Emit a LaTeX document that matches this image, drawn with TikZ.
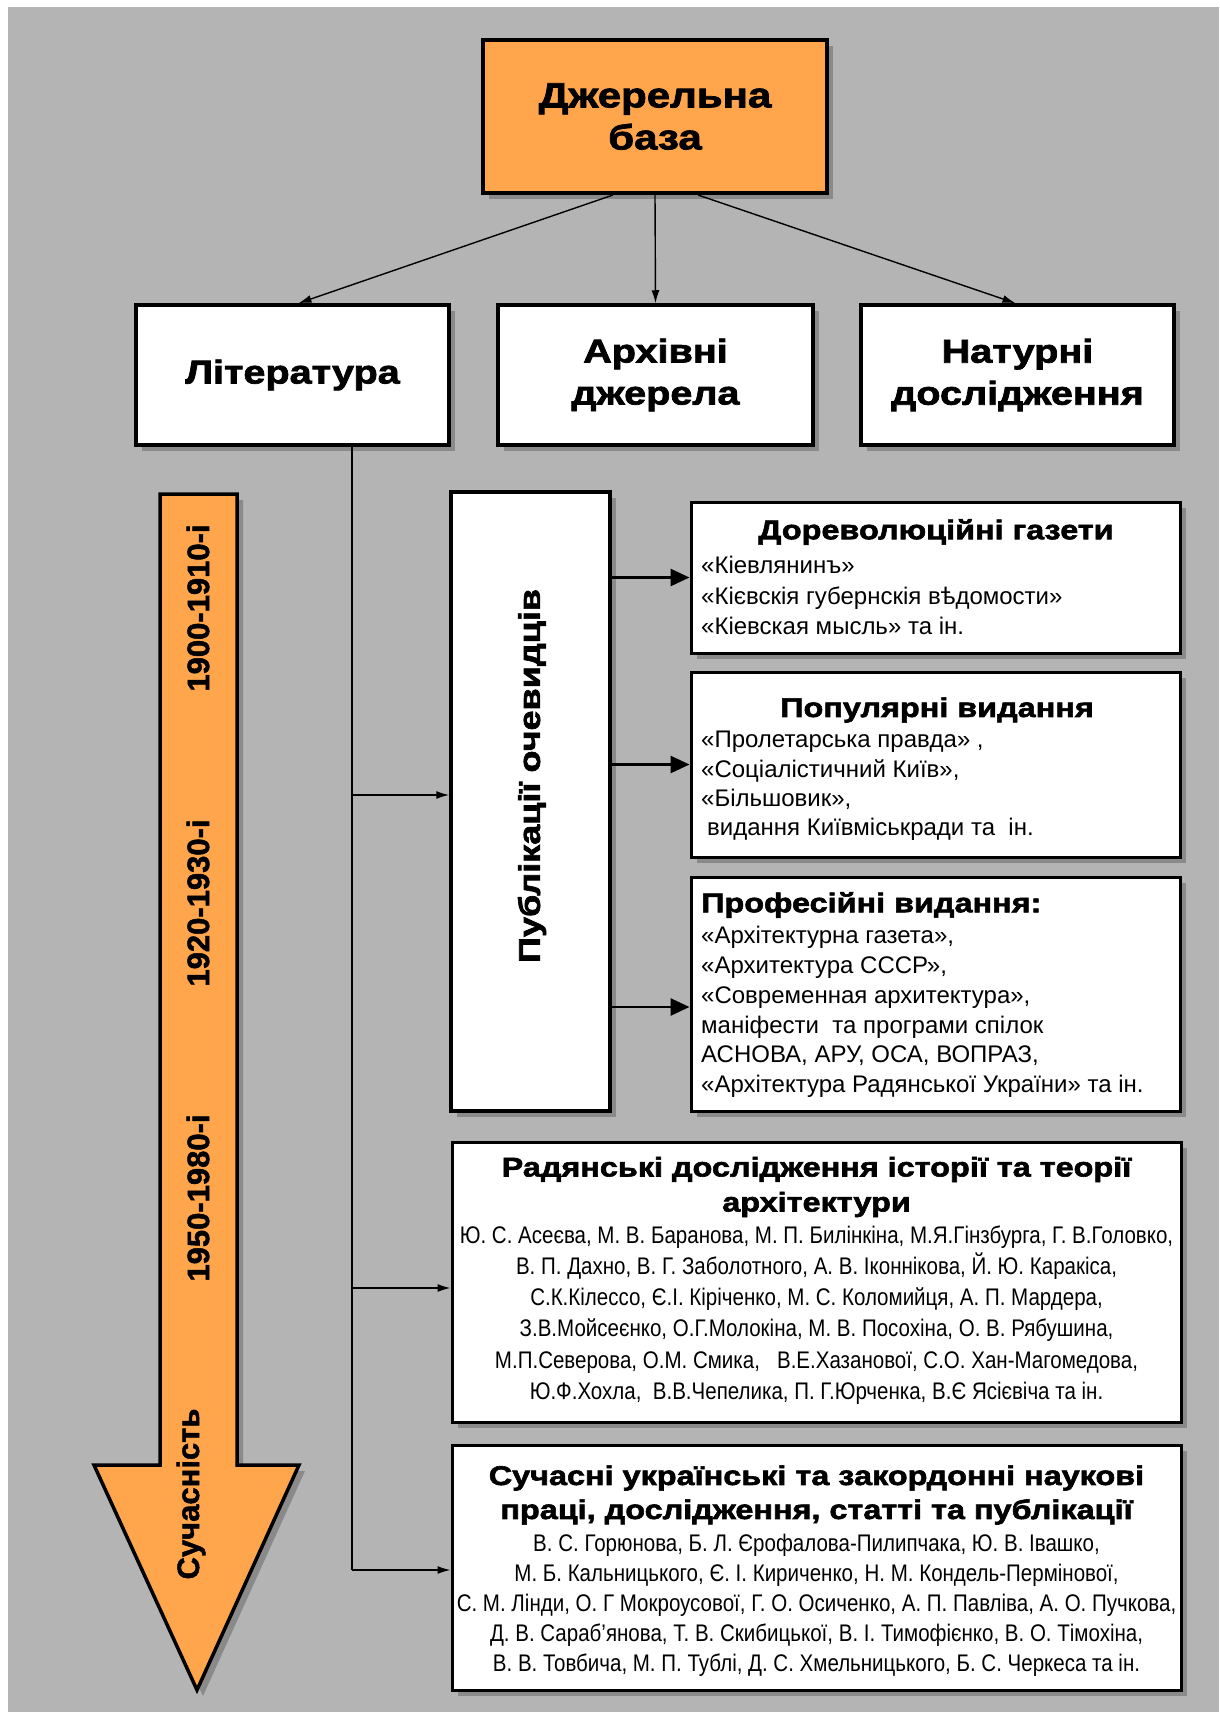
\documentclass[tikz,border=0pt]{standalone}
\usepackage{fontspec}
\setmainfont{Liberation Sans}
\newfontfamily\headfont{Liberation Sans Bold}[FakeStretch=1.2,FakeBold=2.2]
\newfontfamily\bodyfont{Liberation Sans}
\newfontfamily\namefont{Liberation Sans}[FakeStretch=0.855]
\newfontfamily\datefont{Liberation Sans Bold}[FakeBold=1.5]
\usetikzlibrary{arrows.meta,shadows,calc}

\definecolor{bg}{RGB}{180,180,180}
\definecolor{orng}{RGB}{255,166,77}
\definecolor{shd}{RGB}{110,110,110}

\tikzset{
  box/.style={draw=black, line width=3.5pt, fill=white, inner sep=0pt,
    drop shadow={shadow xshift=6pt, shadow yshift=-6pt, fill=shd, opacity=0.6}},
  topbox/.style={box, fill=orng, line width=4pt},
  lvltwo/.style={box, minimum width=313pt, minimum height=140pt, align=center,
    font=\headfont\fontsize{33}{42}\selectfont},
  subbox/.style={box, line width=3pt},
  hd/.style={inner sep=0pt, font=\headfont\fontsize{27}{34}\selectfont},
  plainline/.style={line width=1.4pt},
  thinarr/.style={line width=1.4pt, -{Latex[length=13pt,width=8pt]}},
  thickarr/.style={line width=2.8pt, -{Triangle[length=19pt,width=17pt]}},
  datelbl/.style={rotate=90, inner sep=0pt, font=\datefont\fontsize{31}{36}\selectfont},
}

\begin{document}
\begin{tikzpicture}[x=1pt, y=-1pt]
  % page and grey backdrop
  \useasboundingbox (0,0) rectangle (1219,1712);
  \fill[white] (0,0) rectangle (1219,1712);
  \fill[bg] (8,7) rectangle (1219,1712);

  % time axis arrow
  \filldraw[fill=orng, draw=black, line width=3.5pt, line join=miter,
    drop shadow={shadow xshift=6pt, shadow yshift=-6pt, fill=shd, opacity=0.6}]
    (160,494) -- (237,494) -- (237,1465) -- (299,1465) -- (197,1690)
    -- (94,1465) -- (160,1465) -- cycle;
  \node[datelbl] (d1) at (198,608) {1900-1910-і};
  \node[datelbl] (d2) at (198,903) {1920-1930-і};
  \node[datelbl] (d3) at (198,1198) {1950-1980-і};
  \node[datelbl] (d4) at (191,1494) {Сучасність};

  % top of the tree
  \node[topbox, minimum width=344pt, minimum height=153pt, align=center,
    font=\headfont\fontsize{35}{42}\selectfont] (top) at (655,116.5) {Джерельна\\база};

  \node[lvltwo] (lit) at (292.5,375) {Література};
  \node[lvltwo, minimum width=315pt] (arch) at (655.5,375) {Архівні\\джерела};
  \node[lvltwo] (nat) at (1017.5,375) {Натурні\\дослідження};

  % eyewitness publications
  \node[box, minimum width=159pt, minimum height=619pt] (pub) at (530.5,801.5) {};
  \node[rotate=90, inner sep=0pt, font=\headfont\fontsize{30}{36}\selectfont]
    (pubt) at (532,776) {Публікації очевидців};

  \node[subbox, minimum width=489pt, minimum height=151pt] (dor) at (935.5,577.5) {};
  \node[subbox, minimum width=489pt, minimum height=185pt] (pop) at (935.5,764.5) {};
  \node[subbox, minimum width=489pt, minimum height=234pt] (prof) at (935.5,994) {};
  \node[subbox, minimum width=729pt, minimum height=280pt] (rad) at (816.5,1282) {};
  \node[subbox, minimum width=729pt, minimum height=245pt] (suc) at (816.5,1567.5) {};

  % texts of the boxes
  \node[hd] (dorh) at (936,532) {Дореволюційні газети};
  \node[anchor=west, align=left, inner sep=0pt,
    font=\bodyfont\fontsize{24}{30.5}\selectfont] (dorl) at (701,595.5)
    {«Кіевлянинъ»\\«Кієвскія губернскія вѣдомости»\\«Кіевская мысль» та ін.};

  \node[hd] (poph) at (937,710) {Популярні видання};
  \node[anchor=west, align=left, inner sep=0pt,
    font=\bodyfont\fontsize{24}{29.3}\selectfont] (popl) at (701,786)
    {«Пролетарська правда» ,\\«Соціалістичний Київ»,\\«Більшовик»,\\
     \hspace*{6pt}видання Київміськради та~~ін.};

  \node[hd, anchor=west] (profh) at (701,905) {Професійні видання:};
  \node[anchor=west, align=left, inner sep=0pt,
    font=\bodyfont\fontsize{24}{29.8}\selectfont] (profl) at (701,1012)
    {«Архітектурна газета»,\\«Архитектура СССР»,\\«Современная архитектура»,\\
     маніфести~~та програми спілок\\АСНОВА, АРУ, ОСА, ВОПРАЗ,\\
     «Архітектура Радянської України» та ін.};

  \node[hd, align=center, font=\headfont\fontsize{27}{35}\selectfont] (radh) at (816.5,1187)
    {Радянські дослідження історії та теорії\\архітектури};
  \node[align=center, inner sep=0pt, font=\namefont\fontsize{24}{31.2}\selectfont]
    (radl) at (816.5,1315)
    {Ю. С. Асеєва, М. В. Баранова, М. П. Билінкіна, М.Я.Гінзбурга, Г. В.Головко,\\
     В. П. Дахно, В. Г. Заболотного, А. В. Іконнікова, Й. Ю. Каракіса,\\
     С.К.Кілессо, Є.І. Кіріченко, М. С. Коломийця, А. П. Мардера,\\
     З.В.Мойсеєнко, О.Г.Молокіна, М. В. Посохіна, О. В. Рябушина,\\
     М.П.Северова, О.М. Смика,~~~В.Е.Хазанової, С.О. Хан-Магомедова,\\
     Ю.Ф.Хохла,~~В.В.Чепелика, П. Г.Юрченка, В.Є Ясієвіча та ін.};

  \node[hd, align=center, font=\headfont\fontsize{27}{34}\selectfont] (such) at (816.5,1495)
    {Сучасні українські та закордонні наукові\\праці, дослідження, статті та публікації};
  \node[align=center, inner sep=0pt, font=\namefont\fontsize{24}{30}\selectfont]
    (sucl) at (816.5,1605)
    {В. С. Горюнова, Б. Л. Єрофалова-Пилипчака, Ю. В. Івашко,\\
     М. Б. Кальницького, Є. І. Кириченко, Н. М. Кондель-Пермінової,\\
     С. М. Лінди, О. Г Мокроусової, Г. О. Осиченко, А. П. Павліва, А. О. Пучкова,\\
     Д. В. Сараб’янова, Т. В. Скибицької, В. І. Тимофієнко, В. О. Тімохіна,\\
     В. В. Товбича, М. П. Тублі, Д. С. Хмельницького, Б. С. Черкеса та ін.};

  % connectors from the root
  \draw[thinarr] ([xshift=-42pt]top.south) -- ([xshift=6pt]lit.north);
  \draw[thinarr] (top.south) -- (arch.north);
  \draw[thinarr] ([xshift=43pt]top.south) -- ([xshift=-2pt]nat.north);

  % trunk from the literature box
  \coordinate (b1) at (352,795);
  \coordinate (b2) at (352,1288);
  \coordinate (b3) at (352,1570);
  \draw[plainline] (lit.south -| b1) -- (b3);
  \draw[thinarr] (b1) -- (b1 -| pub.west);
  \draw[thinarr] (b2) -- (b2 -| rad.west);
  \draw[thinarr] (b3) -- (b3 -| suc.west);

  % from the publications box to the three kinds of press
  \coordinate (p3) at ($(prof.west)+(0,13)$);
  \draw[thickarr] (pub.east |- dor.west) -- (dor.west);
  \draw[thickarr] (pub.east |- pop.west) -- (pop.west);
  \draw[thickarr] (pub.east |- p3) -- (p3);
\end{tikzpicture}
\end{document}
